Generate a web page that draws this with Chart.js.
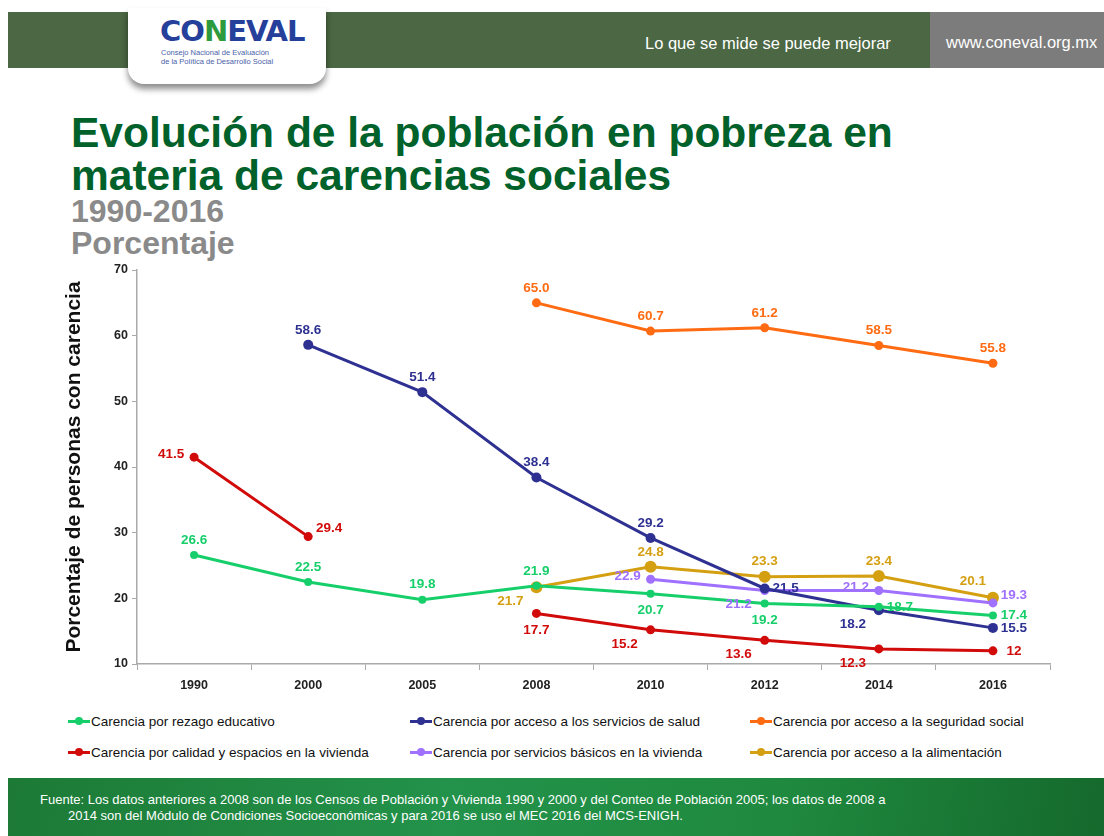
<!DOCTYPE html>
<html>
<head>
<meta charset="utf-8">
<script src="https://cdn.jsdelivr.net/npm/chart.js@4.4.1/dist/chart.umd.min.js"></script>
<style>
  body { margin: 0; width: 1104px; height: 836px; background: #fff; position: relative; overflow: hidden; font-family: "Liberation Sans", Arial, sans-serif; }
  .band { position: absolute; left: 8px; top: 12px; width: 922px; height: 56px; background: #4b6743; }
  .gray { position: absolute; left: 930px; top: 12px; width: 174px; height: 56px; background: #7c7c7c; color: #fff; font-size: 16.5px; line-height: 60px; padding-left: 16px; box-sizing: border-box; white-space: nowrap; overflow: hidden; }
  .motto { position: absolute; left: 645px; top: 12px; line-height: 62px; color: #fff; font-size: 16.5px; }
  .tab { position: absolute; left: 128px; top: 8px; width: 198px; height: 76px; background: #fff; border-radius: 0 0 16px 16px; box-shadow: 0 5px 6px rgba(0,0,0,0.45); }
  .logo { position: absolute; left: 160px; top: 14px; font: 900 29px "DejaVu Sans", sans-serif; color: #24409a; letter-spacing: -1px; }
  .logo span { color: #2e9a3e; }
  .sub { position: absolute; left: 161px; top: 48px; font-size: 7.5px; color: #4a62a8; line-height: 9px; }
  .title { position: absolute; left: 71px; top: 111px; font-weight: bold; font-size: 42.5px; line-height: 43px; color: #00612a; }
  .years { position: absolute; left: 71px; top: 195px; font-weight: bold; font-size: 32px; line-height: 32px; color: #8a8a8a; }
  #wrap { position: absolute; left: 0; top: 250px; width: 1104px; height: 450px; }
  .legend { position: absolute; font-family: "Liberation Sans", Arial, sans-serif; font-size: 13.5px; color: #111; display: flex; align-items: center; white-space: nowrap; }
  .legend i { display: inline-block; position: relative; width: 22px; height: 3px; margin-right: 1px; }
  .legend i b { position: absolute; left: 7px; top: -3px; width: 8px; height: 8px; border-radius: 50%; }
  .foot { position: absolute; left: 8px; top: 778px; width: 1096px; height: 58px; background: linear-gradient(100deg, #1c7a36 0%, #23924a 40%, #1f8a3f 70%, #15692c 100%); }
  .foot p { position: absolute; margin: 0; color: #fff; font-family: "Liberation Sans", Arial, sans-serif; font-size: 13px; }
</style>
</head>
<body>
<div class="band"></div>
<div class="gray">www.coneval.org.mx</div>
<div class="motto">Lo que se mide se puede mejorar</div>
<div class="tab"></div>
<div class="logo">CO<span>N</span>EVAL</div>
<div class="sub">Consejo Nacional de Evaluación<br>de la Política de Desarrollo Social</div>

<div class="title">Evolución de la población en pobreza en<br>materia de carencias sociales</div>
<div class="years">1990-2016<br>Porcentaje</div>

<div id="wrap"><canvas id="chart"></canvas></div>
<div id="legend"></div>

<div class="foot">
  <p style="left:32px;top:14px">Fuente: Los datos anteriores a 2008 son de los Censos de Población y Vivienda 1990 y 2000 y del Conteo de Población 2005; los datos de 2008 a</p>
  <p style="left:60px;top:30px">2014 son del Módulo de Condiciones Socioeconómicas y para 2016 se uso el MEC 2016 del MCS-ENIGH.</p>
</div>

<script>
const years = ['1990', '2000', '2005', '2008', '2010', '2012', '2014', '2016'];
const yTicks = [10, 20, 30, 40, 50, 60, 70];

const rezagoEducativo = [26.6, 22.5, 19.8, 21.9, 20.7, 19.2, 18.7, 17.4];
const serviciosSalud = [null, 58.6, 51.4, 38.4, 29.2, 21.5, 18.2, 15.5];
const seguridadSocial = [null, null, null, 65.0, 60.7, 61.2, 58.5, 55.8];
const calidadVivienda = [41.5, 29.4, null, 17.7, 15.2, 13.6, 12.3, 12];
const serviciosBasicos = [null, null, null, null, 22.9, 21.2, 21.2, 19.3];
const alimentacion = [null, null, null, 21.7, 24.8, 23.3, 23.4, 20.1];

// where each value label sits relative to its point
const labelOffsets = {
  t: [0, -15], b: [0, 17], l: [-23, -3], r: [21, 0], bl: [-26, 14], tl: [-20, -16], rt: [21, -8]
};

const series = [
  { label: 'Carencia por rezago educativo', data: rezagoEducativo, color: '#16cf6a', r: 4,
    pos: ['t', 't', 't', 't', 'b', 'b', 'r', 'r'] },
  { label: 'Carencia por acceso a los servicios de salud', data: serviciosSalud, color: '#2e3192', r: 5,
    pos: [null, 't', 't', 't', 't', 'r', 'bl', 'r'] },
  { label: 'Carencia por acceso a la seguridad social', data: seguridadSocial, color: '#ff6b12', r: 4.5,
    pos: [null, null, null, 't', 't', 't', 't', 't'] },
  { label: 'Carencia por calidad y espacios en la vivienda', data: calidadVivienda, color: '#d10a0a', r: 4.5, raw: true,
    pos: ['l', 'rt', null, 'b', 'bl', 'bl', 'bl', 'r'] },
  { label: 'Carencia por servicios básicos en la vivienda', data: serviciosBasicos, color: '#a070ff', r: 4.5,
    pos: [null, null, null, null, 'l', 'bl', 'l', 'rt'] },
  { label: 'Carencia por acceso a la alimentación', data: alimentacion, color: '#d4a012', r: 6,
    pos: [null, null, null, 'bl', 't', 't', 't', 'tl'] }
];

const valueLabels = {
  id: 'valueLabels',
  afterDatasetsDraw(chart) {
    const ctx = chart.ctx;
    ctx.save();
    ctx.font = 'bold 13.5px "Liberation Sans", Arial, sans-serif';
    ctx.textAlign = 'center';
    ctx.textBaseline = 'middle';
    chart.data.datasets.forEach((ds, di) => {
      const meta = chart.getDatasetMeta(di);
      const s = series[di];
      ds.data.forEach((v, i) => {
        if (v === null) return;
        const pt = meta.data[i];
        const off = labelOffsets[s.pos[i]] || labelOffsets.t;
        ctx.fillStyle = s.color;
        ctx.fillText(s.raw ? String(v) : v.toFixed(1), pt.x + off[0], pt.y + off[1]);
      });
    });
    ctx.restore();
  }
};

new Chart(document.getElementById('chart'), {
  type: 'line',
  data: {
    labels: years,
    datasets: series.map(s => ({
      label: s.label,
      data: s.data,
      borderColor: s.color,
      backgroundColor: s.color,
      borderWidth: 3,
      pointRadius: s.r,
      pointBorderWidth: 0,
      spanGaps: false,
      tension: 0
    }))
  },
  options: {
    responsive: true,
    maintainAspectRatio: false,
    animation: false,
    layout: { padding: { left: 62, right: 54, top: 20, bottom: 0 } },
    plugins: { legend: { display: false }, tooltip: { enabled: false } },
    scales: {
      x: {
        offset: true,
        grid: { offset: true, drawOnChartArea: false, tickLength: 6, color: '#aaa' },
        border: { color: '#aaa', width: 1.5 },
        ticks: { color: '#222', font: { weight: 'bold', size: 12.5, family: '"Liberation Sans", Arial' }, padding: 8 },
        afterFit: s => { s.height = 36; }
      },
      y: {
        min: 10, max: 70,
        afterBuildTicks: s => { s.ticks = yTicks.map(v => ({ value: v })); },
        grid: { drawOnChartArea: false, tickLength: 5, color: '#aaa' },
        border: { color: '#aaa', width: 1.5 },
        ticks: { color: '#222', font: { weight: 'bold', size: 12.5, family: '"Liberation Sans", Arial' }, padding: 4 },
        title: { display: true, text: 'Porcentaje de personas con carencia', color: '#111',
          font: { weight: 'bold', size: 21, family: '"Liberation Sans", Arial' }, padding: 0 },
        afterFit: s => { s.width = 75; }
      }
    }
  },
  plugins: [valueLabels]
});

// legend in three columns, two rows
const legendX = [68, 410, 750];
const legendY = [714, 745];
const legend = document.getElementById('legend');
series.forEach((s, i) => {
  const el = document.createElement('div');
  el.className = 'legend';
  el.style.left = legendX[i % 3] + 'px';
  el.style.top = legendY[Math.floor(i / 3)] + 'px';
  el.innerHTML = '<i style="background:' + s.color + '"><b style="background:' + s.color + '"></b></i>' + s.label;
  legend.appendChild(el);
});
</script>
</body>
</html>
